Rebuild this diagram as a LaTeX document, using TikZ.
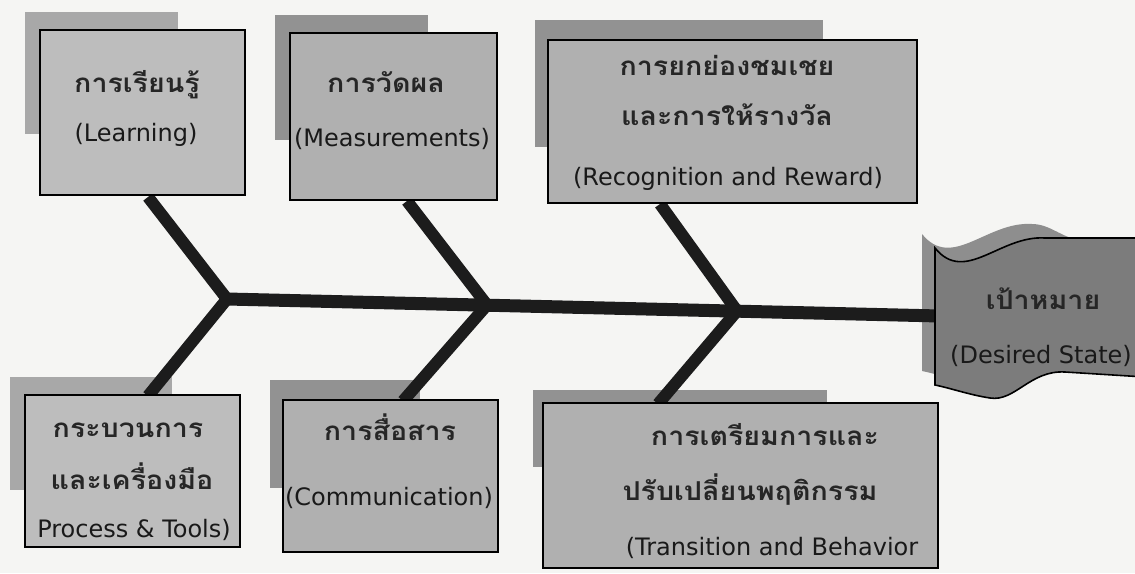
\documentclass[tikz,border=0pt]{standalone}
\usepackage{fontspec}
\setmainfont{DejaVu Sans}
\newfontfamily\thai[Script=Thai,FakeStretch=1.1]{Loma}
\usetikzlibrary{calc}
\definecolor{paper}{HTML}{F5F5F3}
\definecolor{boxgray}{HTML}{B0B0B0}
\definecolor{lightgray}{HTML}{BDBDBD}
\definecolor{shadowgray}{HTML}{929292}
\definecolor{goalgray}{HTML}{7C7C7C}
\definecolor{goalshadow}{HTML}{8E8E8E}
\definecolor{bone}{HTML}{1C1C1C}
\tikzset{
  shadowbox/.style={fill=shadowgray, draw=none},
  mainbox/.style={fill=boxgray, draw=black, line width=1.6pt},
  thaitxt/.style={font=\thai\bfseries\fontsize{26}{30}\selectfont, anchor=base, inner sep=0pt, text=black!85},
  engtxt/.style={font=\fontsize{24}{28}\selectfont, anchor=base, inner sep=0pt, text=black!90},
  bonestyle/.style={draw=bone, line width=12pt, line cap=butt},
  spinestyle/.style={draw=bone, line width=13pt, line cap=butt},
}
\begin{document}
\begin{tikzpicture}[x=1pt,y=-1pt]
\fill[paper] (0,0) rectangle (1135,573);
\useasboundingbox (0,0) rectangle (1135,573);

% shadows
\fill[shadowbox, fill=shadowgray!80!white] (25,12) rectangle (178,134);
\fill[shadowbox] (275,15) rectangle (428,140);
\fill[shadowbox] (535,20) rectangle (823,147);
\fill[shadowbox, fill=shadowgray!80!white] (10,377) rectangle (172,490);
\fill[shadowbox] (270,380) rectangle (420,488);
\fill[shadowbox] (533,390) rectangle (827,467);

% goal shadow
\fill[goalshadow] (922,234) .. controls (952,271) and (987,221) .. (1032,224) .. controls (1050,224) and (1062,238) .. (1080,240) -- (1140,240) -- (1140,363)
  -- (1052,358) .. controls (1017,356) and (1002,388) .. (977,384) .. controls (957,381) and (937,374) .. (922,371) -- cycle;

% skeleton
\coordinate (v1) at (227,299);
\coordinate (v2) at (487,305);
\coordinate (v3) at (737,311);
\coordinate (head) at (940,316);
\coordinate (t1) at (148,197);
\coordinate (t2) at (407,201);
\coordinate (t3) at (660,204);
\coordinate (b1) at (148,396);
\coordinate (b2) at (403,401);
\coordinate (b3) at (658,404);
\draw[spinestyle] (v1) -- (head);
\draw[bonestyle] (t1) -- (v1) -- (b1);
\draw[bonestyle] (t2) -- (v2) -- (b2);
\draw[bonestyle] (t3) -- (v3) -- (b3);

% main boxes
\node[mainbox, fill=lightgray, minimum width=205pt, minimum height=165pt, inner sep=0pt] (learn) at (142.5,112.5) {};
\node[mainbox, minimum width=207pt, minimum height=167pt, inner sep=0pt] (meas) at (393.5,116.5) {};
\node[mainbox, minimum width=369pt, minimum height=163pt, inner sep=0pt] (recog) at (732.5,121.5) {};
\node[mainbox, fill=lightgray, minimum width=215pt, minimum height=152pt, inner sep=0pt] (proc) at (132.5,471) {};
\node[mainbox, minimum width=215pt, minimum height=152pt, inner sep=0pt] (comm) at (390.5,476) {};
\node[mainbox, minimum width=395pt, minimum height=165pt, inner sep=0pt] (trans) at (740.5,485.5) {};

% goal shape
\path[fill=goalgray, draw=black, line width=1.6pt] (935,248) .. controls (965,285) and (1000,235) .. (1045,238) -- (1145,238) -- (1145,377)
  -- (1065,372) .. controls (1030,370) and (1015,402) .. (990,398) .. controls (970,395) and (950,388) .. (935,385) -- cycle;
\coordinate (goal) at (1040,315);

% texts
\node[thaitxt] (learnA) at (137,92) {การเรียนรู้};
\node[engtxt] (learnB) at (136,141) {(Learning)};
\node[thaitxt] (measA) at (386,92) {การวัดผล};
\node[engtxt] (measB) at (392,146) {(Measurements)};
\node[thaitxt] (recogA) at (727,75) {การยกย่องชมเชย};
\node[thaitxt] (recogB) at (727,125) {และการให้รางวัล};
\node[engtxt] (recogC) at (728,185) {(Recognition and Reward)};
\node[thaitxt] (goalA) at (1043,309) {เป้าหมาย};
\node[engtxt] (goalB) at (1041,363) {(Desired State)};
\node[thaitxt] (procA) at (128,437) {กระบวนการ};
\node[thaitxt] (procB) at (132,489) {และเครื่องมือ};
\node[engtxt] (procC) at (134,537) {Process \& Tools)};
\node[thaitxt] (commA) at (390,440) {การสื่อสาร};
\node[engtxt] (commB) at (389,505) {(Communication)};
\node[thaitxt] (transA) at (765,445) {การเตรียมการและ};
\node[thaitxt] (transB) at (750,500) {ปรับเปลี่ยนพฤติกรรม};
\node[engtxt] (transC) at (772,555) {(Transition and Behavior};
\end{tikzpicture}
\end{document}
